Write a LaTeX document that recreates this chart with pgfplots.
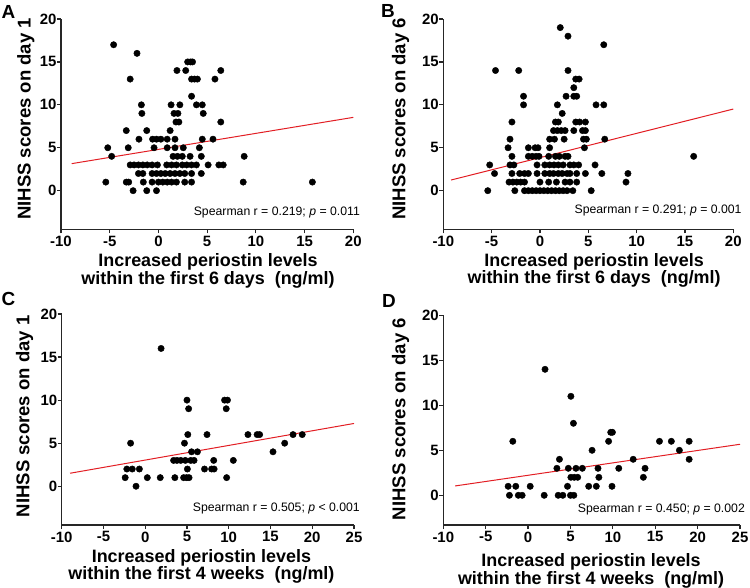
\documentclass[border=0pt]{standalone}
\usepackage{fontspec}
\setmainfont{Liberation Sans}
\usepackage{pgfplots}
\pgfplotsset{compat=1.18}
\definecolor{fitred}{RGB}{226,30,36}
\newcommand\tickfont{\bfseries\fontsize{15}{15}\selectfont}
\newcommand\labfont{\bfseries\fontsize{18}{16.5}\selectfont}
\newcommand\ylabfont{\bfseries\fontsize{18.6}{18.6}\selectfont}
\newcommand\statfont{\fontsize{12.3}{12.3}\selectfont}
\newcommand\panelfont{\bfseries\fontsize{19}{19}\selectfont}
\pgfplotsset{panel/.style={
  scale only axis, axis lines=left,
  /pgf/number format/assume math mode=true,
  axis line style={-, line width=1.3bp, black!85},
  tick align=outside, major tick length=4bp,
  tick style={line width=1.2bp, black!85},
  every tick label/.append style={font=\tickfont},
  yticklabel style={xshift=3bp},
  xticklabel style={yshift=-1bp, inner sep=1.5bp},
  ymax=20, ytick={0,5,10,15,20}, yticklabels={0,5,10,15,20},
  xlabel style={font=\labfont, align=center, anchor=center, inner sep=0pt},
  ylabel style={font=\ylabfont, anchor=center},
  clip=false,
},
dots/.style={only marks, mark=*, mark size=3.2bp, black},
fit/.style={fitred, line width=1bp},
xa/.style={xmin=-10, xmax=20, xtick={-10,-5,0,5,10,15,20}, xticklabels={-10,-5,0,5,10,15,20}},
xb/.style={xmin=-10, xmax=25, xtick={-10,-5,0,5,10,15,20,25}, xticklabels={-10,-5,0,5,10,15,20,25}}}
\begin{document}
\begin{tikzpicture}
\useasboundingbox (0,0) rectangle (750bp,-588bp);
% ---------------- A
\begin{axis}[panel, xa, at={(61bp,-229.3bp)}, anchor=south west, width=292.3bp, height=210.3bp,
  ymin=-4.5,
  xlabel={Increased periostin levels\\within the first 6 days\ \ (ng/ml)},
  xlabel style={at={(axis description cs:0.503,-0.198)}},
  ylabel={NIHSS scores on day 1},
  ylabel style={at={(axis description cs:-0.12,0.525)}}]
\addplot[fit] coordinates {(-8.9,3.15) (20,8.54)};
\addplot[dots] coordinates {
(-4.6,17) (-2.2,16) (3.0,15) (3.3,15) (3.5,15) (1.9,14) (2.8,14) (6.4,14)
(-2.9,13) (3.4,13) (3.7,13) (4.0,13) (5.8,13) (3.4,11)
(-1.75,10) (1.3,10) (2.2,10) (3.9,10) (4.5,10)
(-1.7,9) (1.6,9) (2.0,9) (4.6,9)
(1.8,8) (2.1,8) (6.4,8)
(-3.3,7) (-1.2,7) (1.2,7)
(-2.0,6) (-0.6,6) (-0.2,6) (0.25,6) (0.9,6) (1.7,6) (4.5,6) (5.6,6)
(-5.2,5) (-3.1,5) (-0.45,5) (0.9,5) (1.7,5) (2.55,5) (4.2,5)
(-4.8,4) (1.5,4) (1.95,4) (2.45,4) (3.25,4) (4.4,4) (8.8,4)
(-2.9,3) (-2.5,3) (-2.05,3) (-1.6,3) (-1.15,3) (-0.65,3) (-0.1,3) (0.85,3) (1.35,3)
(1.85,3) (2.45,3) (2.9,3) (3.4,3) (3.9,3) (5.1,3) (6.2,3) (6.65,3)
(-2.05,2) (-1.6,2) (-0.65,2) (-0.2,2) (0.25,2) (0.7,2) (1.2,2) (1.7,2) (2.2,2) (2.7,2) (3.4,2) (4.4,2)
(-5.4,1) (-3.3,1) (-3.05,1) (-1.55,1) (-0.65,1) (0.0,1) (0.45,1) (0.9,1) (1.35,1) (1.85,1)
(2.7,1) (3.4,1) (8.7,1) (15.8,1)
(-2.6,0) (-1.2,0) (-0.2,0)};
\node[anchor=east, inner sep=0pt, font=\statfont] at (rel axis cs:1.023,0.079) {Spearman r = 0.219; \textit{p} = 0.011};
\end{axis}
% ---------------- B
\begin{axis}[panel, xa, at={(443.3bp,-229.3bp)}, anchor=south west, width=290bp, height=210.3bp,
  ymin=-4.5,
  xlabel={Increased periostin levels\\within the first 6 days\ \ (ng/ml)},
  xlabel style={at={(axis description cs:0.52,-0.195)}},
  ylabel={NIHSS scores on day 6},
  ylabel style={at={(axis description cs:-0.147,0.525)}}]
\addplot[fit] coordinates {(-9.2,1.24) (20,9.51)};
\addplot[dots] coordinates {
(2.1,19) (2.9,18) (6.6,17) (-4.6,14) (-2.2,14) (2.9,14) (3.7,13) (4.05,13) (3.5,12)
(-1.7,11) (2.7,11) (3.5,11) (3.8,11)
(-1.7,10) (1.8,10) (5.8,10) (6.6,10) (2.3,9)
(-2.9,8) (1.6,8) (1.9,8) (3.7,8) (4.1,8) (4.7,8)
(1.4,7) (1.8,7) (2.2,7) (2.6,7) (3.5,7) (4.4,7) (4.7,7)
(-3.1,6) (1.0,6) (1.5,6) (2.5,6) (4.5,6) (4.8,6) (6.7,6)
(-3.3,5) (-1.2,5) (-0.5,5) (-0.2,5) (1.0,5) (4.6,5)
(-2.9,4) (-1.2,4) (-0.8,4) (-0.4,4) (-0.1,4) (0.9,4) (1.6,4) (2.0,4) (2.6,4) (2.9,4) (15.9,4)
(-5.2,3) (-3.1,3) (-2.7,3) (-0.3,3) (0.5,3) (1.0,3) (1.45,3) (1.9,3) (2.4,3) (3.1,3) (3.5,3) (4.0,3) (5.7,3)
(-4.7,2) (-2.9,2) (-2.1,2) (-1.6,2) (-1.2,2) (-0.3,2) (0.5,2) (1.0,2) (1.4,2) (1.9,2) (2.3,2)
(2.8,2) (3.1,2) (3.8,2) (4.7,2) (6.4,2) (9.1,2)
(-3.2,1) (-2.8,1) (-2.4,1) (-2.0,1) (-1.6,1) (0.0,1) (0.9,1) (1.7,1) (2.6,1) (3.1,1) (3.8,1) (8.9,1)
(-5.4,0) (-2.6,0) (-1.6,0) (-1.2,0) (-0.8,0) (-0.4,0) (0.0,0) (0.4,0) (0.8,0) (1.2,0) (1.6,0)
(2.0,0) (2.4,0) (2.8,0) (3.4,0) (5.3,0)};
\node[anchor=east, inner sep=0pt, font=\statfont] at (rel axis cs:1.029,0.088) {Spearman r = 0.291; \textit{p} = 0.001};
\end{axis}
% ---------------- C
\begin{axis}[panel, xb, at={(61.7bp,-525bp)}, anchor=south west, width=292.3bp, height=211bp,
  ymin=-4.5,
  xlabel={Increased periostin levels\\within the first 4 weeks\ \ (ng/ml)},
  xlabel style={at={(axis description cs:0.478,-0.196)}},
  ylabel={NIHSS scores on day 1},
  ylabel style={at={(axis description cs:-0.127,0.515)}}]
\addplot[fit] coordinates {(-9.0,1.51) (25,7.29)};
\addplot[dots] coordinates {
(1.9,16) (5.0,10) (9.5,10) (9.85,10) (5.2,9) (9.7,9)
(5.1,6) (7.4,6) (12.3,6) (13.4,6) (13.7,6) (17.7,6) (18.8,6)
(-1.75,5) (4.7,5) (16.7,5) (5.55,4) (6.25,4) (15.3,4)
(3.4,3) (3.8,3) (4.25,3) (4.8,3) (5.45,3) (5.85,3) (8.2,3) (10.55,3)
(-2.2,2) (-1.55,2) (-0.7,2) (5.05,2) (7.1,2) (7.95,2) (8.25,2)
(-2.4,1) (0.25,1) (1.8,1) (3.55,1) (4.6,1) (4.95,1) (5.25,1) (9.75,1)
(-1.1,0)};
\node[anchor=east, inner sep=0pt, font=\statfont] at (rel axis cs:1.0205,0.076) {Spearman r = 0.505; \textit{p} < 0.001};
\end{axis}
% ---------------- D
\begin{axis}[panel, xb, at={(443.3bp,-525bp)}, anchor=south west, width=296.7bp, height=209.7bp,
  ymin=-3.3,
  xlabel={Increased periostin levels\\within the first 4 weeks\ \ (ng/ml)},
  xlabel style={at={(axis description cs:0.498,-0.219)}},
  ylabel={NIHSS scores on day 6},
  ylabel style={at={(axis description cs:-0.1436,0.505)}}]
\addplot[fit] coordinates {(-8.6,1.04) (25,5.67)};
\addplot[dots] coordinates {
(2.0,14) (5.05,11) (5.35,8) (9.75,7) (9.95,7)
(-1.8,6) (9.5,6) (15.5,6) (16.9,6) (19.0,6) (7.55,5) (17.85,5)
(3.7,4) (12.4,4) (19.0,4)
(3.4,3) (4.75,3) (5.65,3) (6.4,3) (8.25,3) (10.7,3) (13.8,3)
(5.05,2) (5.45,2) (5.85,2) (8.35,2) (13.6,2)
(-2.35,1) (-1.45,1) (0.25,1) (4.65,1) (7.15,1) (8.05,1) (9.9,1)
(-2.2,0) (-1.15,0) (-0.7,0) (1.9,0) (3.55,0) (4.1,0) (5.0,0) (5.4,0)};
\node[anchor=east, inner sep=0pt, font=\statfont] at (rel axis cs:1.017,0.075) {Spearman r = 0.450; \textit{p} = 0.002};
\end{axis}
\node[font=\panelfont] at (8.5bp,-11.5bp) {A};
\node[font=\panelfont] at (388bp,-11bp) {B};
\node[font=\panelfont] at (8.5bp,-299bp) {C};
\node[font=\panelfont] at (389bp,-301bp) {D};
\end{tikzpicture}
\end{document}
